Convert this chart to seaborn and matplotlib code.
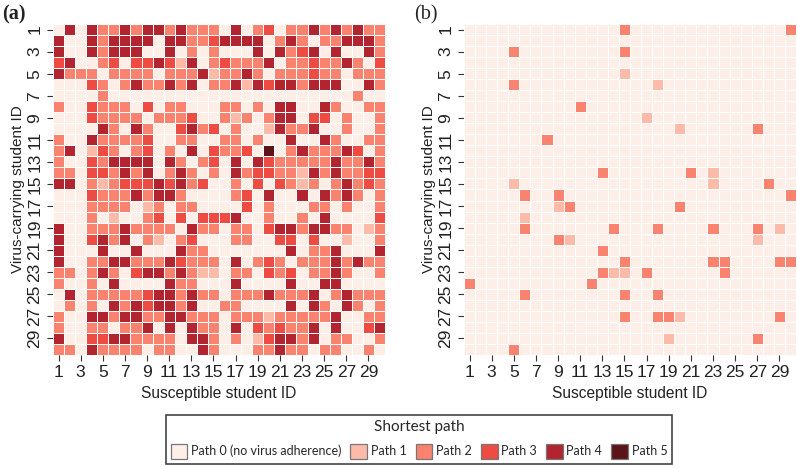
import numpy as np
import matplotlib
matplotlib.use("Agg")
import matplotlib.pyplot as plt
from matplotlib.colors import ListedColormap
from matplotlib.patches import Patch
import seaborn as sns

# Shortest path length per (virus-carrying student, susceptible student), one row per carrier,
# split into susceptible students 1-13 and 14-30
rows_a = [
    ["0404224244242", "22040230224242422"],
    ["4004244440442", "23444402420224442"],
    ["4004244400402", "02000404234040042"],
    ["3400230334314", "02322240223224203"],
    ["4222022220222", "41224202223220222"],
    ["0003202422424", "02241434424440042"],
    ["0000200000000", "00000000000000200"],
    ["2003222030220", "00220204400420022"],
    ["0003222202223", "00212024403302002"],
    ["0000420420034", "23020014224002002"],
    ["2004222230022", "00220200400420022"],
    ["2401320230204", "03223050242224302"],
    ["2003244440420", "23040432222242242"],
    ["2203324240242", "02042332214242233"],
    ["4402123334342", "30020303212024232"],
    ["0003222424420", "00023040040424202"],
    ["0002222012022", "00003020002202002"],
    ["0002010023030", "33340020020400003"],
    ["4002224222204", "22022034424422012"],
    ["4003424021023", "00022003303001002"],
    ["4000400400042", "20000000402240004"],
    ["4002244222432", "22040232022242422"],
    ["2202420344242", "11022032302242002"],
    ["2002040000422", "00040000400440000"],
    ["0402222234424", "22022242224024222"],
    ["0202042434424", "00220000404204202"],
    ["2004424422442", "22022212222240022"],
    ["2002202240404", "22040323224040034"],
    ["4003344222204", "42020134424022002"],
    ["2204222202200", "42000224220220020"],
]
shortest_a = [[int(c) for c in left + right] for left, right in rows_a]

# Panel (b) is mostly empty, so only the non-zero cells are listed: row -> {column: path}
cells_b = {
    1: {15: 2, 30: 2}, 3: {5: 2, 15: 2}, 5: {15: 1}, 6: {5: 2, 18: 1},
    8: {11: 2}, 9: {17: 1}, 10: {20: 1, 27: 2}, 11: {8: 2},
    14: {13: 2, 21: 2, 23: 1}, 15: {5: 1, 23: 1, 28: 2}, 16: {6: 2, 9: 2, 30: 2},
    17: {9: 1, 10: 2, 20: 2}, 18: {6: 1},
    19: {6: 2, 14: 2, 18: 2, 23: 2, 27: 2, 29: 1}, 20: {9: 2, 10: 1, 27: 1},
    21: {13: 2}, 22: {15: 2, 23: 2, 24: 2, 29: 2, 30: 2},
    23: {13: 2, 14: 1, 15: 1, 17: 2, 24: 2}, 24: {1: 2, 12: 2},
    25: {6: 2, 15: 2, 18: 2}, 27: {15: 2, 18: 2, 19: 2, 20: 1, 29: 2},
    29: {19: 1, 27: 2}, 30: {5: 2},
}
shortest_b = [[cells_b.get(r, {}).get(c, 0) for c in range(1, 31)] for r in range(1, 31)]

student_ids = list(range(1, 31))
tick_ids = student_ids[::2]
path_labels = ["Path 0 (no virus adherence)", "Path 1", "Path 2", "Path 3", "Path 4", "Path 5"]
path_colors = ["#FEEEE8", "#FCBBA8", "#F9836F", "#EE4B43", "#B22430", "#5B1418"]
panel_names = ["(a)", "(b)"]

sns.set_theme(style="white")
plt.rcParams["font.family"] = ["Liberation Sans", "DejaVu Sans"]

W, H = 797, 468
fig = plt.figure(figsize=(W / 100, H / 100), dpi=100)
ax_a = fig.add_axes([53 / W, 1 - 355 / H, 332 / W, 331 / H])
ax_b = fig.add_axes([464 / W, 1 - 355 / H, 332 / W, 331 / H])

cmap = ListedColormap(path_colors)
for ax, matrix, lw in zip((ax_a, ax_b), (shortest_a, shortest_b), (0.45, 0.4)):
    sns.heatmap(np.array(matrix), ax=ax, cmap=cmap, vmin=-0.5, vmax=5.5, cbar=False,
                linewidths=lw, linecolor="white", square=False)
    ax.set_xticks([i - 0.5 for i in tick_ids])
    ax.set_xticklabels(tick_ids, rotation=0, fontsize=12.5, color="#222222")
    ax.set_yticks([i - 0.5 for i in tick_ids])
    ax.set_yticklabels(tick_ids, rotation=90, va="center", fontsize=12.5, color="#222222")
    ax.tick_params(axis="both", length=4.5, width=0.8, color="#333333", pad=3,
                   bottom=True, left=True)
    ax.set_xlabel("Susceptible student ID", fontsize=11.2, color="#222222", labelpad=4)
    ax.set_ylabel("Virus-carrying student ID", fontsize=11, color="#222222", labelpad=2)

fig.text(2 / W, 1 - 19 / H, panel_names[0], family="Liberation Serif", fontsize=14.5,
         fontweight="bold", color="#222222")
fig.text(414 / W, 1 - 19 / H, panel_names[1], family="Liberation Serif", fontsize=14.5,
         color="#222222")

handles = [Patch(facecolor=c, edgecolor="#777777", linewidth=0.9) for c in path_colors]
legend = fig.legend(handles, path_labels, title="Shortest path", ncols=6,
                    loc="center", bbox_to_anchor=(419 / W, 1 - 439.5 / H),
                    prop={"family": "Lato", "size": 9},
                    title_fontproperties={"family": "Lato", "size": 11},
                    handlelength=1.35, handleheight=1.55, handletextpad=0.3, columnspacing=0.7,
                    borderpad=0.4, labelspacing=0.3, fancybox=False, framealpha=1,
                    edgecolor="#444444")
legend.get_frame().set_linewidth(1.2)
legend._legend_box.sep = 7

fig.savefig("out.png", dpi=100)
